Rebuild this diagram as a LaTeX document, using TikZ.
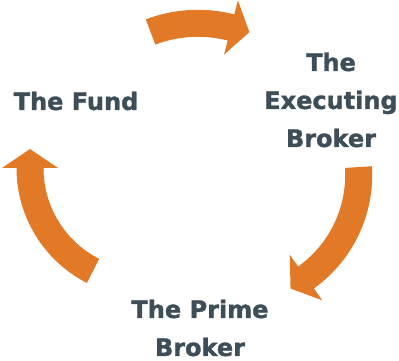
\documentclass[tikz,border=0pt]{standalone}
\usepackage{fontspec}
\setmainfont{DejaVu Sans}[BoldFeatures={FakeBold=1.4}]
\usetikzlibrary{calc}

\definecolor{flow}{RGB}{226,121,38}
\definecolor{partygray}{RGB}{62,78,88}

% thick curved arrow: centre x, centre y, radius, tail angle, head angle
\newcommand{\flowarrow}[5]{%
  \pgfmathsetmacro{\ro}{#3+13.5}%
  \pgfmathsetmacro{\ri}{#3-13.5}%
  \pgfmathsetmacro{\ho}{#3+28}%
  \pgfmathsetmacro{\hi}{#3-28}%
  \pgfmathsetmacro{\tipang}{#5-90}%
  \fill[flow] ($(#1,#2)+(#4:\ro pt)$) arc[start angle=#4,end angle=#5,radius=\ro pt]
    -- ($(#1,#2)+(#5:\ho pt)$)
    -- ($(#1,#2)+(#5:#3pt)+(\tipang:19pt)$)
    -- ($(#1,#2)+(#5:\hi pt)$)
    -- ($(#1,#2)+(#5:\ri pt)$) arc[start angle=#5,end angle=#4,radius=\ri pt]
    -- cycle;%
}

\begin{document}
\begin{tikzpicture}[x=1pt,y=1pt,
  party/.style={text=partygray,align=center,inner sep=0pt,
    font=\bfseries\fontsize{24pt}{38pt}\selectfont}]
\useasboundingbox (0,0) rectangle (399,361);

% the three parties
\node[party] (fund) at (76,260) {The Fund};
\node[party] (exec) at (331,261) {The\\Executing\\Broker};
\node[party] (prime) at (200,33) {The Prime\\Broker};

% arrows round the cycle
\flowarrow{197.9}{203.7}{134}{110.7}{75.7}
\flowarrow{232.6}{186}{126.1}{3.6}{-54.4}
\flowarrow{145.5}{193}{115.5}{243}{180}
\end{tikzpicture}
\end{document}
